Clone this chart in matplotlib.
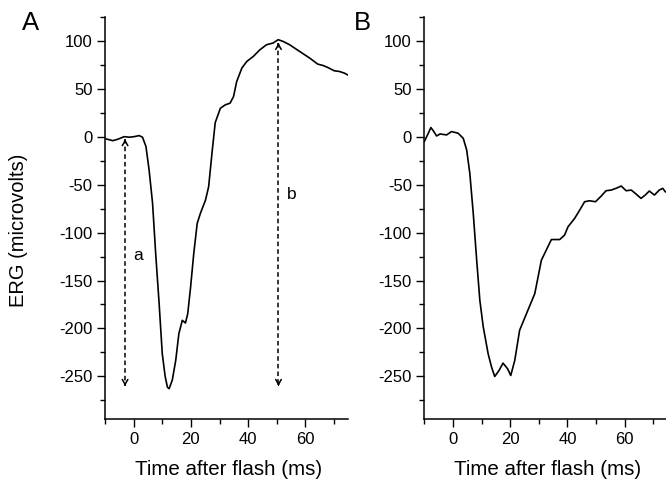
import matplotlib
matplotlib.use("Agg")
import matplotlib.pyplot as plt
from matplotlib.ticker import MultipleLocator

plt.rcParams['font.family'] = ['Liberation Sans', 'DejaVu Sans']
plt.rcParams['axes.unicode_minus'] = False

# Panel A trace (time in ms, ERG in microvolts)
time_a = [-9.6, -7.3, -5.5, -3.3, -1.5, 0.2, 1.9, 3.1, 4.3, 5.4, 6.6, 7.7, 8.9, 10.0,
          11.0, 11.8, 12.4, 13.5, 14.7, 15.8, 17.0, 18.1, 18.9, 19.9, 21.0, 22.2, 23.3,
          25.1, 26.2, 27.4, 28.5, 30.3, 32.0, 33.7, 34.9, 36.0, 37.8, 39.5, 41.8, 44.1,
          46.4, 48.7, 50.5, 52.2, 54.5, 58.0, 61.5, 64.3, 66.1, 67.8, 70.1, 71.9, 73.6, 74.7]
erg_a = [-2.1, -3.9, -2.4, 0.3, -0.3, 0.3, 1.4, -0.3, -10, -34.6, -69, -122, -174, -226.5,
         -250, -261.5, -263, -254, -233.5, -205.5, -191.6, -194.4, -184.6, -156.7, -121.8,
         -90.4, -80, -66, -52, -16, 15, 30, 33.5, 35.3, 42.2, 57.9, 71.9, 78.8, 84.1, 91,
         96.3, 98.1, 101.6, 99.8, 96.3, 89.3, 82.4, 76.1, 74.7, 72.6, 69.1, 68.4, 66.7, 64.9]

# Panel B trace
time_b = [-10, -8.6, -7.7, -6.9, -5.7, -4.5, -2.2, -0.5, 1.8, 3.6, 4.8, 5.9, 7.1, 8.3,
          9.4, 10.6, 12.3, 13.5, 14.6, 16.1, 17.5, 19.1, 20.2, 21.6, 23.3, 25.7, 28.6,
          30.9, 32.6, 34.4, 37.3, 39.0, 40.2, 42.5, 44.3, 46.0, 47.7, 49.8, 51.8, 53.5,
          55.3, 57.0, 58.8, 60.5, 62.3, 64.0, 65.7, 67.2, 68.6, 70.4, 72.1, 73.3, 74.2]
erg_b = [-4.9, 3.9, 9.8, 6.6, 1.0, 3.1, 2.1, 5.6, 3.9, -1.4, -13.6, -38, -79.9, -128.8,
         -170.7, -198.6, -226.5, -240.5, -250.3, -244, -236.3, -242.2, -249.2, -233.5,
         -202, -184.6, -163.7, -128.8, -118.3, -107.2, -107.2, -102.6, -93.9, -85.2,
         -76.4, -67.7, -66.7, -67.7, -61.8, -56.2, -55.5, -53.7, -51.3, -56.2, -55.5,
         -59.7, -64.2, -60.7, -56.5, -60.7, -55.5, -53.7, -57.3]

# Measurement arrows in panel A: (x, top, bottom, label, label_x, label_y)
arrow_a = (-3.0, 0.5, -263.0, 'a', 0.0, -124.0)
arrow_b = (50.6, 101.0, -263.0, 'b', 53.6, -60.0)

xticks = [0, 20, 40, 60]
yticks = [-250, -200, -150, -100, -50, 0, 50, 100]

fig = plt.figure(figsize=(6.66, 4.83), dpi=100)
axA = fig.add_axes([0.1577, 0.1319, 0.3653, 0.8323])
axB = fig.add_axes([0.6371, 0.1319, 0.3653, 0.8323])

for ax in (axA, axB):
    ax.set_xlim(-10, 75)
    ax.set_ylim(-295, 125)
    ax.spines['top'].set_visible(False)
    ax.spines['right'].set_visible(False)
    for s in ('left', 'bottom'):
        ax.spines[s].set_linewidth(1.1)
    ax.set_xticks(xticks)
    ax.set_yticks(yticks)
    ax.xaxis.set_minor_locator(MultipleLocator(10))
    ax.yaxis.set_minor_locator(MultipleLocator(25))
    ax.tick_params(which='major', direction='out', length=6, width=1.0, labelsize=12, pad=3)
    ax.tick_params(which='minor', direction='out', length=3.5, width=1.0)
    ax.set_xlabel('Time after flash (ms)', fontsize=14.8, va='top')
    ax.xaxis.set_label_coords(0.507, -0.102)
    ax.patch.set_alpha(0)

axA.plot(time_a, erg_a, color='black', lw=1.2)
axB.plot(time_b, erg_b, color='black', lw=1.2)
axA.set_ylabel('ERG (microvolts)', fontsize=14.5)
axA.yaxis.set_label_coords(-0.318, 0.471)

for (x, top, bot, lab, lx, ly) in (arrow_a, arrow_b):
    axA.plot([x, x], [top - 3, bot + 3], color='black', lw=1.1, ls=(0, (3, 2)))
    axA.annotate('', xy=(x, top), xytext=(x, top - 8),
                 arrowprops=dict(arrowstyle='->,head_length=0.35,head_width=0.2', lw=1.1, color='black'))
    axA.annotate('', xy=(x, bot), xytext=(x, bot + 8),
                 arrowprops=dict(arrowstyle='->,head_length=0.35,head_width=0.2', lw=1.1, color='black'))
    axA.text(lx, ly, lab, fontsize=12.5, ha='left', va='center')

fig.text(0.033, 0.953, 'A', fontsize=18.5, ha='left', va='center')
fig.text(0.532, 0.953, 'B', fontsize=18.5, ha='left', va='center')

fig.savefig('out.png', dpi=100)
